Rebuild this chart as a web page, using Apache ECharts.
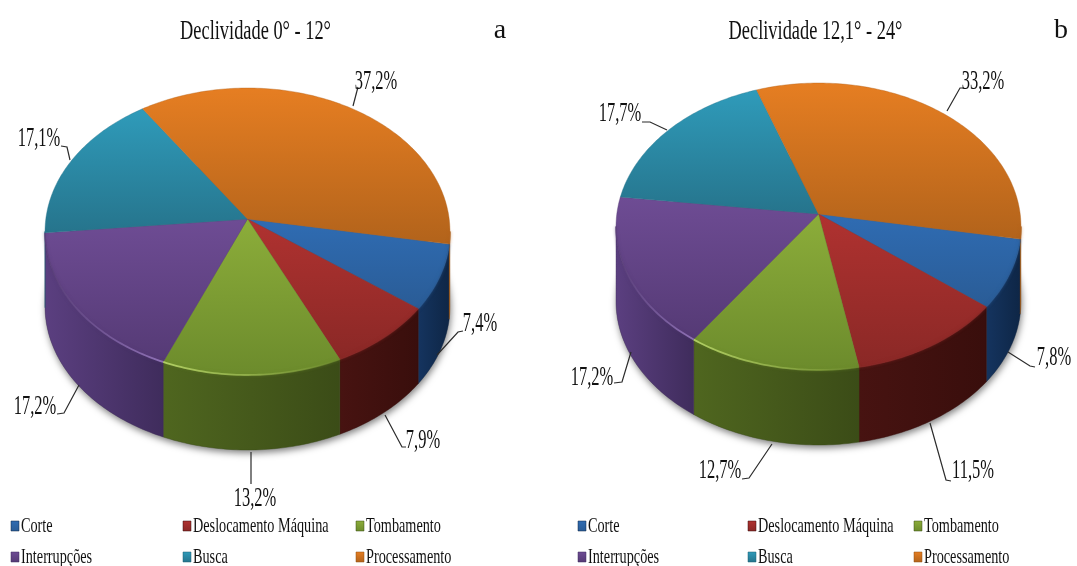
<!DOCTYPE html>
<html>
<head>
<meta charset="utf-8">
<title>Declividade</title>
<style>
  html, body { margin: 0; padding: 0; background: #fff; }
  #chart { width: 1077px; height: 566px; }
</style>
<script src="https://cdn.jsdelivr.net/npm/echarts@6/dist/echarts.min.js"></script>
</head>
<body>
<div id="chart"></div>
<script>
// Activity shares per slope class
const categories = ['Corte', 'Deslocamento Máquina', 'Tombamento', 'Interrupções', 'Busca', 'Processamento'];
const gentleSlopeValues = [7.4, 7.9, 13.2, 17.2, 17.1, 37.2];
const steepSlopeValues = [7.8, 11.5, 12.7, 17.2, 17.7, 33.2];
const chartTitles = ['Declividade 0° - 12°', 'Declividade 12,1° - 24°'];
const panelLetters = ['a', 'b'];

// Slice styling, in category order
const topStops = [
  ['#2f6cb3', '#2a5c96'], ['#b03230', '#8a2826'], ['#8cad3a', '#6c8b2c'],
  ['#6e4c94', '#553a75'], ['#2f9bba', '#26748c'], ['#e67e22', '#b2631b']
];
const wallStops = [
  ['#15345f', '#0e2646'], ['#471311', '#390e0c'], ['#4f661f', '#3b4c17'],
  ['#5b3f80', '#3f2c5c'], ['#2a7f99', '#1e5f73'], ['#c26c1c', '#8d4e13']
];
// Highlight along the front edge, fading left to right
const rimGlow = [
  null,
  null,
  ['rgba(190,220,110,0.85)', 'rgba(190,220,110,0)'],
  ['rgba(150,120,190,0)', 'rgba(155,125,195,0.85)'],
  null,
  null
];

// Pie projection: perspective tilt, radii, wall height, first-slice angle
const pieShape = { radiusX: 201.7, radiusY: 142.4, tilt: 0.0872, wall: 75, startDeg: 10 };
const pieCentres = [[247.5, 219], [818.5, 214]];
const STEP_DEG = 1;

// Label layout per panel: text centre, then leader polyline
const labelLayouts = [
  [
    { text: [480, 324], line: [[437, 355], [458, 332], [463, 331]] },
    { text: [423, 441], line: [[385, 415], [402, 447], [406, 447]] },
    { text: [255, 499], line: [[251, 452], [251, 484]] },
    { text: [35, 407], line: [[79, 385], [64, 413], [57, 414]] },
    { text: [39, 139], line: [[70, 160], [67, 147], [61, 146]] },
    { text: [376, 82], line: [[353, 106], [358, 87]] }
  ],
  [
    { text: [1054, 358], line: [[1008, 352], [1030, 366], [1035, 367]] },
    { text: [973, 471], line: [[930, 423], [946, 480], [951, 481]] },
    { text: [720, 471], line: [[772, 444], [749, 478], [742, 479]] },
    { text: [592, 378], line: [[631, 352], [622, 382], [614, 383]] },
    { text: [620, 114], line: [[667, 130], [650, 122], [642, 122]] },
    { text: [983, 82], line: [[947, 111], [960, 88], [964, 88]] }
  ]
];

// Legend grid: column x positions per panel and the two row centres
const legendColumns = [[11, 183, 356], [578, 748, 914]];
const legendRows = [526, 557];

function projectRim(centre, deg) {
  const t = deg * Math.PI / 180;
  const X = Math.cos(t), Y = Math.sin(t);
  const s = 1 / (1 - pieShape.tilt * Y);
  return [centre[0] + pieShape.radiusX * X * s, centre[1] + pieShape.radiusY * Y * s];
}

function arcPoints(centre, from, to, dy) {
  const pts = [];
  const n = Math.max(1, Math.ceil((to - from) / STEP_DEG));
  for (let i = 0; i <= n; i++) {
    const p = projectRim(centre, from + (to - from) * i / n);
    pts.push([p[0], p[1] + dy]);
  }
  return pts;
}

function gradient(vertical, stops) {
  return {
    type: 'linear', x: 0, y: 0, x2: vertical ? 0 : 1, y2: vertical ? 1 : 0,
    colorStops: [{ offset: 0, color: stops[0] }, { offset: 1, color: stops[1] }]
  };
}

function condensedText(text, x, y, size, scaleX, align, color) {
  return {
    type: 'text', x: x, y: y, scaleX: scaleX, silent: true, z: 10,
    style: {
      text: text, x: 0, y: 0, fill: color || '#111',
      font: size + 'px "Liberation Serif"', align: align || 'center', verticalAlign: 'middle'
    }
  };
}

// One custom series per panel; each datum is drawn as wall, top face, label and leader
function pieSeries(panel, values) {
  const centre = pieCentres[panel];
  const total = values.reduce((a, b) => a + b, 0);
  const angleBefore = i => pieShape.startDeg + values.slice(0, i).reduce((a, b) => a + b, 0) / total * 360;
  const silhouette = Math.asin(pieShape.tilt) * 180 / Math.PI;
  return {
    type: 'custom',
    coordinateSystem: 'none',
    name: chartTitles[panel],
    silent: true,
    animation: false,
    data: values.map((v, i) => ({ name: categories[i], value: [v, i] })),
    renderItem: function (params, api) {
      const i = api.value(1);
      const from = angleBefore(i);
      const to = from + api.value(0) / total * 360;
      const children = [];

      // soft cast shadow under the whole cylinder, emitted once
      if (i === 0) {
        const base = arcPoints(centre, 0, 360, pieShape.wall);
        children.push({
          type: 'polygon', z2: 0, shape: { points: base },
          style: { fill: '#8a8a8a', shadowBlur: 7, shadowColor: 'rgba(0,0,0,0.5)', shadowOffsetX: 1, shadowOffsetY: 3 }
        });
      }

      // front wall: only the rim between the two silhouette angles can be seen
      [[from, to], [from - 360, to - 360]].forEach(function (range) {
        const a = Math.max(range[0], silhouette);
        const b = Math.min(range[1], 180 - silhouette);
        if (b <= a) return;
        const upper = arcPoints(centre, a, b, 0);
        const lower = arcPoints(centre, a, b, pieShape.wall).reverse();
        children.push({
          type: 'polygon', z2: 1, shape: { points: upper.concat(lower) },
          style: { fill: gradient(false, wallStops[i]), stroke: wallStops[i][1], lineWidth: 0.4 }
        });
        // soft bevel between top face and wall
        children.push({
          type: 'polyline', z2: 3, shape: { points: upper },
          style: { stroke: topStops[i][1], lineWidth: 1.5, opacity: 0.6, fill: 'none', shadowBlur: 3, shadowColor: topStops[i][1] }
        });
        if (rimGlow[i]) {
          children.push({
            type: 'polyline', z2: 4, shape: { points: upper },
            style: { stroke: gradient(false, rimGlow[i]), lineWidth: 1.8, fill: 'none' }
          });
        }
      });

      // top face of the slice
      const top = [centre].concat(arcPoints(centre, from, to, 0));
      children.push({
        type: 'polygon', z2: 2, shape: { points: top },
        style: { fill: gradient(true, topStops[i]), stroke: topStops[i][1], lineWidth: 0.4 }
      });

      // value label and its leader
      const layout = labelLayouts[panel][i];
      children.push({
        type: 'polyline', z2: 5, shape: { points: layout.line },
        style: { stroke: '#2b2b2b', lineWidth: 1.2, fill: 'none' }
      });
      const label = condensedText(api.value(0).toFixed(1).replace('.', ',') + '%', layout.text[0], layout.text[1], 27, 0.61);
      label.z2 = 6;
      delete label.z;
      children.push(label);

      return { type: 'group', children: children };
    }
  };
}

// Titles, panel letters and the two legends
const overlay = [];
chartTitles.forEach(function (title, p) {
  overlay.push(condensedText(title, p === 0 ? 255.5 : 815.5, 32, 28, 0.656));
  overlay.push(condensedText(panelLetters[p], p === 0 ? 500 : 1061, 31, 28, 1));
  categories.forEach(function (name, i) {
    const x = legendColumns[p][i % 3];
    const y = legendRows[Math.floor(i / 3)];
    overlay.push({
      type: 'rect', silent: true, z: 10,
      shape: { x: x, y: y - 5, width: 8, height: 10 },
      style: { fill: gradient(true, topStops[i]), stroke: wallStops[i][1], lineWidth: 0.5 }
    });
    overlay.push(condensedText(name, x + 10, y, 22, 0.647, 'left'));
  });
});

const chart = echarts.init(document.getElementById('chart'), null, { renderer: 'canvas' });
chart.setOption({
  backgroundColor: '#ffffff',
  animation: false,
  series: [pieSeries(0, gentleSlopeValues), pieSeries(1, steepSlopeValues)],
  graphic: { elements: overlay }
});
</script>
</body>
</html>
